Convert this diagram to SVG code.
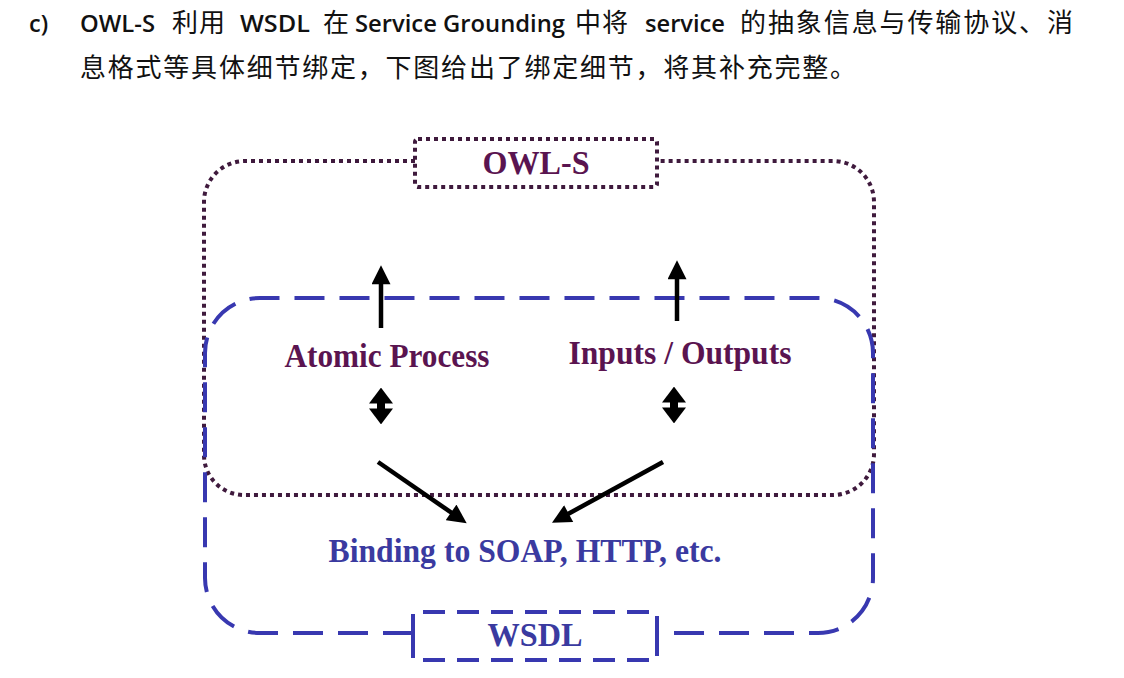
<svg xmlns="http://www.w3.org/2000/svg" width="1124" height="678" viewBox="0 0 1124 678">
<style>
.hdr{font-family:"Liberation Sans","Noto Sans CJK SC",sans-serif;font-size:26px;fill:#111}
.lat{font-family:"Open Sans","Liberation Sans",sans-serif;font-weight:600;font-size:23.5px}
.lbl{font-family:"Liberation Serif","Times New Roman",serif;font-weight:bold;font-size:33px;text-anchor:middle}
.purple{fill:#5a1450}
.blue{fill:#3a3aa0}
.dot{fill:none;stroke:#3f1a3d;stroke-width:4;stroke-dasharray:4 4}
.dash{fill:none;stroke:#3838b0;stroke-width:4;stroke-dasharray:30 15}
.arr{stroke:#000;stroke-width:4.5;fill:none}
</style>
<defs>
<marker id="head" viewBox="0 0 10 10" refX="7" refY="5" markerWidth="20" markerHeight="19" markerUnits="userSpaceOnUse" orient="auto-start-reverse">
<path d="M0,0 L10,5 L0,10 z" fill="#000"/>
</marker>
<marker id="bighead" viewBox="0 0 10 10" refX="6" refY="5" markerWidth="16" markerHeight="24" markerUnits="userSpaceOnUse" orient="auto-start-reverse" preserveAspectRatio="none">
<path d="M0,0 L10,5 L0,10 z" fill="#000"/>
</marker>
</defs>
<rect width="1124" height="678" fill="#fff"/>
<g id="question">
<text class="hdr lat" x="29" y="32">c)</text>
<text class="hdr lat" x="80" y="32" textLength="75" lengthAdjust="spacingAndGlyphs">OWL-S</text>
<text class="hdr" x="172" y="32" textLength="53">利用</text>
<text class="hdr lat" x="240" y="32" textLength="70" lengthAdjust="spacingAndGlyphs">WSDL</text>
<text class="hdr" x="323" y="32">在</text>
<text class="hdr lat" x="355" y="32" textLength="210" lengthAdjust="spacingAndGlyphs">Service Grounding</text>
<text class="hdr" x="575" y="32" textLength="53">中将</text>
<text class="hdr lat" x="645" y="32" textLength="80" lengthAdjust="spacingAndGlyphs">service</text>
<text class="hdr" x="740" y="32" textLength="333">的抽象信息与传输协议、消</text>
<text class="hdr" x="80" y="77" textLength="776">息格式等具体细节绑定，下图给出了绑定细节，将其补充完整。</text>
</g>
<g id="owls">
<path class="dot" d="M415,161 H245 A41,41 0 0 0 204,202 V455 A40,40 0 0 0 244,495 H833 A41,41 0 0 0 874,454 V202 A41,41 0 0 0 833,161 H657"/>
<rect class="dot" x="415" y="139" width="242" height="48" rx="3"/>
<text class="lbl purple" x="536" y="174" textLength="107" lengthAdjust="spacingAndGlyphs">OWL-S</text>
</g>
<g id="wsdl">
<path class="dash" d="M413,633 H260 A55,55 0 0 1 205,578 V353 A55,55 0 0 1 260,298 H818 A55,55 0 0 1 873,353 V578 A55,55 0 0 1 818,633 H657"/>
<path class="dash" d="M413,636 V612 H657 V636 M413,636 V660 H657 V636" style="stroke-dasharray:22 12"/>
<text class="lbl blue" x="535" y="646" textLength="95" lengthAdjust="spacingAndGlyphs">WSDL</text>
</g>
<g id="atomic-process">
<text class="lbl purple" x="387" y="367" textLength="205" lengthAdjust="spacingAndGlyphs">Atomic Process</text>
</g>
<g id="inputs-outputs">
<text class="lbl purple" x="680" y="364" textLength="223" lengthAdjust="spacingAndGlyphs">Inputs / Outputs</text>
</g>
<g id="binding">
<text class="lbl blue" x="525" y="562" textLength="393" lengthAdjust="spacingAndGlyphs">Binding to SOAP, HTTP, etc.</text>
</g>
<g id="connectors">
<line class="arr" x1="381" y1="328" x2="381" y2="271" marker-end="url(#head)"/>
<line class="arr" x1="677" y1="321" x2="677" y2="266" marker-end="url(#head)"/>
<line class="arr" x1="381" y1="394" x2="381" y2="418" style="stroke-width:8" marker-start="url(#bighead)" marker-end="url(#bighead)"/>
<line class="arr" x1="674" y1="393" x2="674" y2="417" style="stroke-width:8" marker-start="url(#bighead)" marker-end="url(#bighead)"/>
<line class="arr" x1="378" y1="462" x2="462" y2="520" marker-end="url(#head)"/>
<line class="arr" x1="663" y1="462" x2="557" y2="520" marker-end="url(#head)"/>
</g>
</svg>
